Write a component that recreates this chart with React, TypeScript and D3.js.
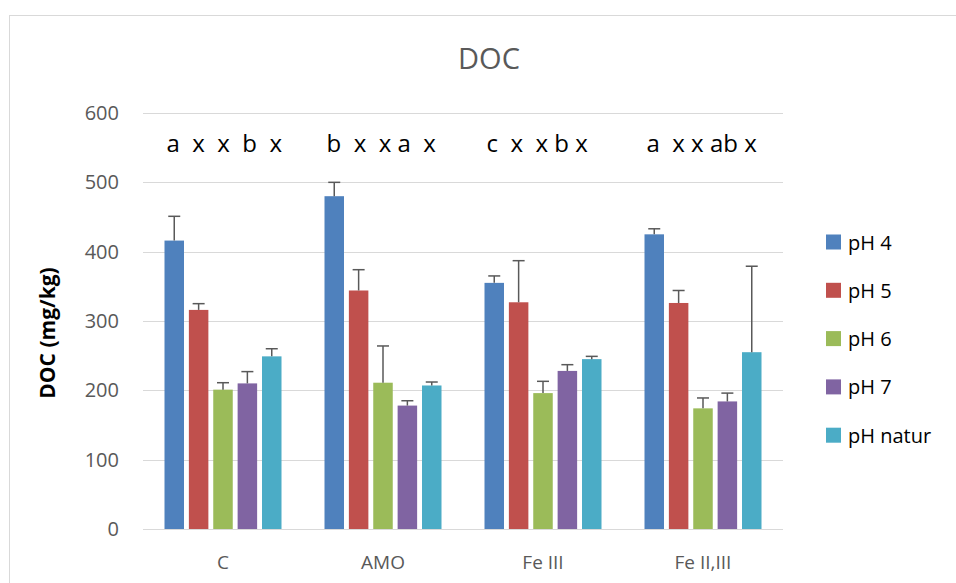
import React from "react";
import * as d3 from "d3";

const categories = ["C", "AMO", "Fe III", "Fe II,III"];
const seriesNames = ["pH 4", "pH 5", "pH 6", "pH 7", "pH natur"];
const seriesColors = ["#4F81BD", "#C0504D", "#9BBB59", "#8064A2", "#4BACC6"];
// values per series, across categories
const pH4 = [416, 480, 355, 425];
const pH5 = [316, 344, 327, 326];
const pH6 = [201, 211, 196, 174];
const pH7 = [210, 178, 228, 184];
const pHnatur = [249, 207, 245, 255];
// upper error bar sizes
const err4 = [35, 20, 10, 8];
const err5 = [9, 30, 60, 18];
const err6 = [10, 53, 17, 15];
const err7 = [17, 7, 9, 12];
const errNatur = [11, 5, 4, 124];
const letters = ["a  x  x  b  x", "b  x  x a  x", "c  x  x b x", "a  x x ab x"];
const yTicks = [0, 100, 200, 300, 400, 500, 600];

const values = [pH4, pH5, pH6, pH7, pHnatur];
const errors = [err4, err5, err6, err7, errNatur];

export default function App() {
  const W = 956, H = 583;
  const x0 = d3.scaleBand<string>().domain(categories).range([143, 783]).padding(0);
  const x1 = d3.scaleBand<string>().domain(seriesNames).range([21.5, 138.5]).paddingInner(0.2).paddingOuter(0);
  const y = d3.scaleLinear().domain([0, 600]).range([529, 113]);
  const font = "'Open Sans', sans-serif";

  return (
    <svg width={W} height={H} style={{ position: "absolute", left: 0, top: 0, background: "#fff" }} fontFamily={font}>
      <rect x={9.5} y={15.5} width={W + 20} height={H + 20} fill="#fff" stroke="#D9D9D9" strokeWidth={1} />
      <text x={489} y={69} textAnchor="middle" fontSize={29} fill="#595959">DOC</text>
      {yTicks.map((t) => (
        <g key={t}>
          <line x1={143} x2={783} y1={Math.round(y(t)) + 0.5} y2={Math.round(y(t)) + 0.5} stroke="#D9D9D9" strokeWidth={1} />
          <text x={119} y={y(t) + 7} textAnchor="end" fontSize={20} fill="#595959">{t}</text>
        </g>
      ))}
      <text transform={`translate(55,333) rotate(-90)`} textAnchor="middle" fontSize={21} fontWeight="bold" fill="#000">DOC (mg/kg)</text>
      {categories.map((c, ci) => (
        <g key={c} transform={`translate(${x0(c)},0)`}>
          {seriesNames.map((s, si) => {
            const v = values[si][ci];
            const e = errors[si][ci];
            const bx = x1(s)!;
            const bw = x1.bandwidth();
            const cx = bx + bw / 2;
            return (
              <g key={s}>
                <rect x={bx} y={y(v)} width={bw} height={y(0) - y(v)} fill={seriesColors[si]} />
                <line x1={cx} x2={cx} y1={y(v)} y2={y(v + e)} stroke="#595959" strokeWidth={1.5} />
                <line x1={cx - 6} x2={cx + 6} y1={y(v + e)} y2={y(v + e)} stroke="#595959" strokeWidth={1.5} />
              </g>
            );
          })}
          <text x={x1(seriesNames[0])! + 2} y={152} fontSize={24} fill="#000" xmlSpace="preserve" style={{ whiteSpace: "pre" }}>{letters[ci]}</text>
          <text x={x0.bandwidth() / 2} y={569} textAnchor="middle" fontSize={19} fill="#595959">{c}</text>
        </g>
      ))}
      {seriesNames.map((s, si) => (
        <g key={s} transform={`translate(826,${242 + si * 48.3})`}>
          <rect x={0} y={-7.5} width={15} height={15} fill={seriesColors[si]} />
          <text x={22} y={7.5} fontSize={20} fill="#000">{s}</text>
        </g>
      ))}
    </svg>
  );
}
